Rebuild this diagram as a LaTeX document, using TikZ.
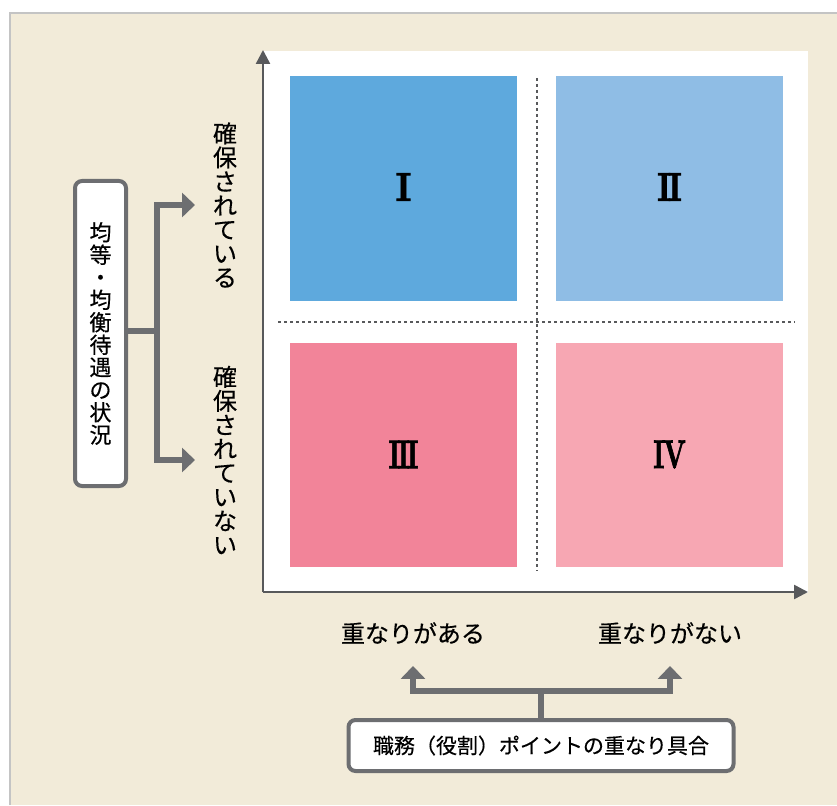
\documentclass[tikz,border=0pt]{standalone}
\usepackage{fontspec}
\newfontfamily\jpfont{Noto Sans CJK JP}[FakeBold=0.4]
\newfontfamily\numfont{lmroman10-bold.otf}[FakeBold=2.2]
\usetikzlibrary{arrows.meta, positioning}

\definecolor{bgbeige}{HTML}{F2EBD9}
\definecolor{framegray}{HTML}{C4C4C4}
\definecolor{axisgray}{HTML}{58595B}
\definecolor{bracegray}{HTML}{6D6E71}
\definecolor{quadI}{HTML}{5EA9DD}
\definecolor{quadII}{HTML}{8FBDE5}
\definecolor{quadIII}{HTML}{F28499}
\definecolor{quadIV}{HTML}{F7A7B3}

\tikzset{
  quad/.style={minimum width=227pt, minimum height=224pt, inner sep=0pt,
    font=\numfont\fontsize{40}{40}\selectfont},
  axisline/.style={axisgray, line width=2.5pt, -{Triangle[length=14pt,width=14pt]}},
  divider/.style={axisgray, line width=1.2pt, dash pattern=on 3pt off 3pt},
  brace/.style={bracegray, line width=6pt},
  bracearrow/.style={brace, -{Triangle[length=13pt,width=24pt]}},
  jplabel/.style={font=\jpfont\fontsize{24}{24}\selectfont, inner sep=0pt},
  vlabel/.style={jplabel, align=center},
  titlebox/.style={draw=bracegray, line width=4pt, fill=white, rounded corners=7pt,
    inner sep=0pt}
}

\begin{document}
\begin{tikzpicture}[x=1pt, y=-1pt]
    \useasboundingbox (0,0) rectangle (837,805);

    % Background and frame
    \fill[bgbeige] (10,13) rectangle (837,805);
    \draw[framegray, line width=1.5pt] (10,805) -- (10,13) -- (837,13);
    \fill[white] (263,51) rectangle (808,593);

    % Quadrants
    \node[quad, fill=quadI]   (q1) at (403.5,188.5) {\raisebox{3pt}{\scalebox{0.9}[1]{I}}};
    \node[quad, fill=quadII]  (q2) at (669.5,188.5) {\raisebox{3pt}{\scalebox{0.8}[1]{I\kern-.1em I}}};
    \node[quad, fill=quadIII] (q3) at (403.5,454.5) {\raisebox{-3pt}{\scalebox{0.68}[1]{I\kern-.1em I\kern-.1em I}}};
    \node[quad, fill=quadIV]  (q4) at (669.5,454.5) {\raisebox{-6pt}{\scalebox{0.65}[1]{I\kern-.05em V}}};

    % Dotted dividers
    \draw[divider] (278,322) -- (795,322);
    \draw[divider] (537,78) -- (537,571);

    % Axes
    \coordinate (origin) at (263,592);
    \draw[axisline] (origin) -- (263,50);
    \draw[axisline] (origin) -- (808,592);

    % Vertical labels
    \node[vlabel] (yes) at (225,205) {確\\保\\さ\\れ\\て\\い\\る};
    \node[vlabel] (no)  at (225,460) {確\\保\\さ\\れ\\て\\い\\な\\い};

    % Left box and its bracket
    \node[titlebox, minimum width=51pt, minimum height=305pt, align=center,
      font=\jpfont\fontsize{22}{22.5}\selectfont] (status) at (100.5,333.5)
      {均\\等\\・\\均\\衡\\待\\遇\\の\\状\\況};
    \coordinate (ysplit) at (157,331);
    \coordinate (yesTip) at (195,205);
    \coordinate (noTip)  at (195,460);
    \draw[brace] (status.east |- ysplit) -- (ysplit);
    \draw[bracearrow] (ysplit) |- (yesTip);
    \draw[bracearrow] (ysplit) |- (noTip);

    % Bottom labels
    \node[jplabel] (overlap)   at (413,633) {重なりがある};
    \node[jplabel] (nooverlap) at (670,633) {重なりがない};

    % Bottom box and its bracket
    \node[titlebox, minimum width=385pt, minimum height=51pt,
      font=\jpfont\fontsize{21}{21}\selectfont] (role) at (541,745.5)
      {職務（役割）ポイントの重なり具合};
    \coordinate (xsplit) at (541,691);
    \draw[brace] (role.north) -- (xsplit);
    \draw[bracearrow] (xsplit) -| ([yshift=-22pt]overlap.south);
    \draw[bracearrow] (xsplit) -| ([yshift=-22pt]nooverlap.south);
\end{tikzpicture}
\end{document}
